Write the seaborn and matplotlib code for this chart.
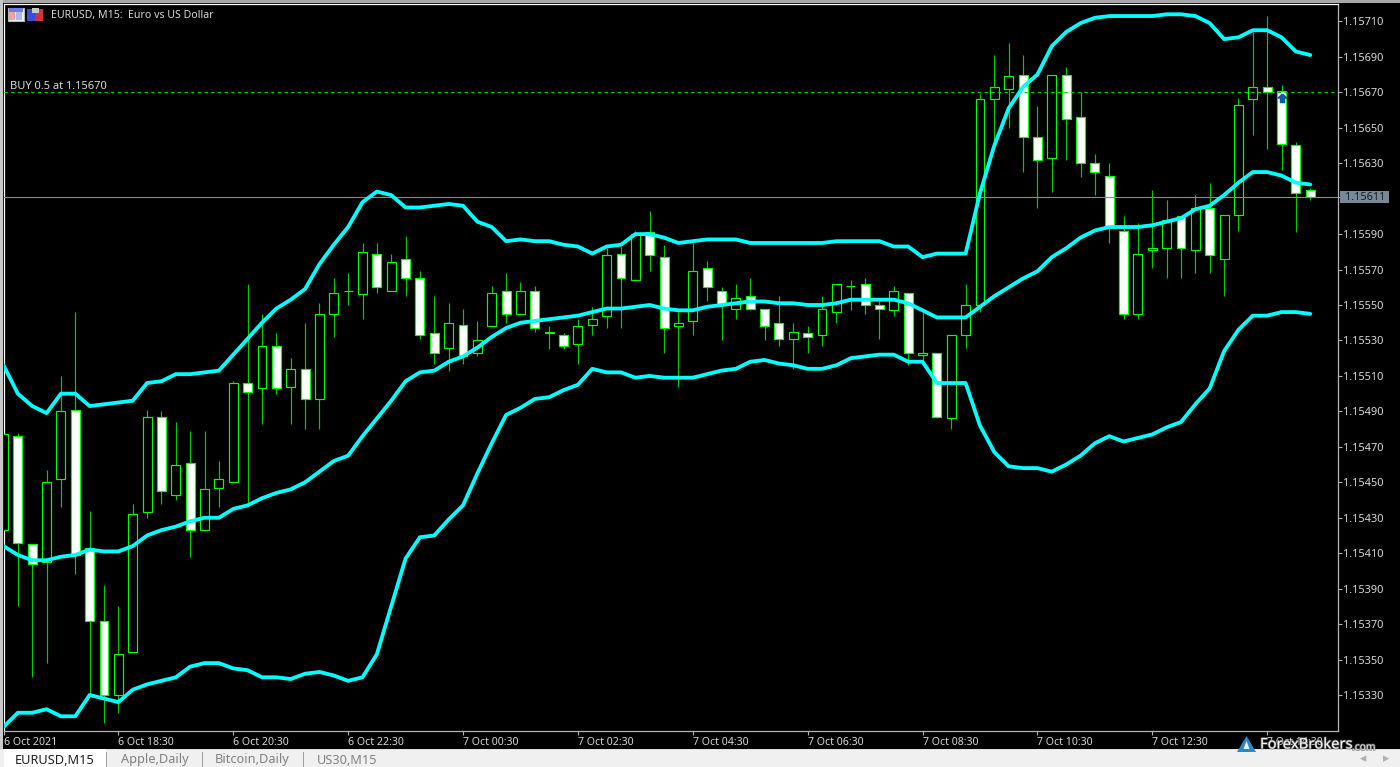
import numpy as np
import pandas as pd
import seaborn as sns
import matplotlib.pyplot as plt
import matplotlib.patheffects as pe
from matplotlib.patches import Rectangle, Polygon
from matplotlib.path import Path

# candles
open_price = [1.15423,1.15476,1.15415,1.15405,1.15452,1.15491,1.15413,1.15372,1.15330,1.15354,1.15433,1.15487,1.15443,1.15461,1.15423,1.15447,
              1.15450,1.15506,1.15503,1.15527,1.15504,1.15514,1.15497,1.15545,1.15558,1.15556,1.15579,1.15558,1.15576,1.15565,1.15534,1.15526,
              1.15539,1.15523,1.15538,1.15558,1.15545,1.15558,1.15535,1.15533,1.15528,1.15539,1.15544,1.15579,1.15564,1.15591,1.15577,1.15538,
              1.15541,1.15571,1.15558,1.15548,1.15555,1.15548,1.15540,1.15531,1.15534,1.15533,1.15546,1.15561,1.15562,1.15550,1.15547,1.15557,
              1.15522,1.15523,1.15486,1.15533,1.15550,1.15666,1.15672,1.15680,1.15645,1.15633,1.15680,1.15656,1.15630,1.15623,1.15592,1.15545,
              1.15581,1.15582,1.15600,1.15581,1.15605,1.15576,1.15601,1.15666,1.15673,1.15671,1.15640,1.15615]
high_price = [1.15477,1.15478,1.15415,1.15457,1.15510,1.15546,1.15434,1.15392,1.15380,1.15438,1.15491,1.15490,1.15484,1.15479,1.15479,1.15462,
              1.15507,1.15562,1.15545,1.15534,1.15520,1.15540,1.15551,1.15565,1.15568,1.15585,1.15585,1.15579,1.15589,1.15569,1.15555,1.15551,
              1.15548,1.15541,1.15561,1.15568,1.15563,1.15561,1.15538,1.15534,1.15542,1.15549,1.15582,1.15583,1.15592,1.15603,1.15584,1.15546,
              1.15585,1.15575,1.15560,1.15562,1.15565,1.15548,1.15555,1.15540,1.15538,1.15555,1.15562,1.15564,1.15565,1.15552,1.15561,1.15557,
              1.15546,1.15523,1.15533,1.15562,1.15669,1.15691,1.15698,1.15691,1.15662,1.15680,1.15684,1.15670,1.15635,1.15630,1.15600,1.15596,
              1.15615,1.15609,1.15600,1.15612,1.15619,1.15601,1.15667,1.15704,1.15713,1.15674,1.15642,1.15616]
low_price = [1.15423,1.15380,1.15340,1.15348,1.15436,1.15398,1.15330,1.15314,1.15320,1.15354,1.15430,1.15438,1.15440,1.15408,1.15423,1.15436,
             1.15450,1.15438,1.15483,1.15500,1.15483,1.15480,1.15480,1.15532,1.15550,1.15542,1.15557,1.15558,1.15555,1.15531,1.15517,1.15513,
             1.15517,1.15521,1.15538,1.15540,1.15545,1.15535,1.15525,1.15525,1.15517,1.15533,1.15537,1.15537,1.15564,1.15569,1.15523,1.15504,
             1.15533,1.15552,1.15530,1.15542,1.15547,1.15530,1.15527,1.15514,1.15523,1.15527,1.15540,1.15547,1.15545,1.15531,1.15544,1.15516,
             1.15518,1.15486,1.15480,1.15526,1.15546,1.15641,1.15650,1.15625,1.15605,1.15614,1.15632,1.15622,1.15612,1.15585,1.15542,1.15542,
             1.15571,1.15565,1.15565,1.15568,1.15568,1.15555,1.15592,1.15646,1.15638,1.15626,1.15591,1.15609]
close_price = [1.15477,1.15416,1.15404,1.15450,1.15490,1.15409,1.15372,1.15330,1.15353,1.15432,1.15487,1.15445,1.15460,1.15423,1.15446,1.15452,
               1.15506,1.15501,1.15527,1.15503,1.15514,1.15497,1.15545,1.15557,1.15558,1.15580,1.15560,1.15574,1.15565,1.15533,1.15523,1.15540,
               1.15521,1.15530,1.15557,1.15545,1.15558,1.15537,1.15534,1.15527,1.15538,1.15542,1.15578,1.15565,1.15590,1.15578,1.15537,1.15540,
               1.15569,1.15560,1.15550,1.15554,1.15548,1.15538,1.15531,1.15535,1.15532,1.15548,1.15562,1.15561,1.15550,1.15548,1.15558,1.15523,
               1.15523,1.15487,1.15533,1.15550,1.15666,1.15673,1.15679,1.15645,1.15632,1.15680,1.15655,1.15630,1.15625,1.15594,1.15545,1.15579,
               1.15582,1.15598,1.15582,1.15605,1.15578,1.15601,1.15663,1.15673,1.15670,1.15641,1.15613,1.15611]

# bollinger bands
band_upper = [1.15516,1.15500,1.15493,1.15489,1.15500,1.15500,1.15493,1.15494,1.15495,1.15496,1.15506,1.15507,1.15511,1.15511,1.15512,1.15513,
              1.15522,1.15531,1.15540,1.15548,1.15553,1.15559,1.15573,1.15584,1.15594,1.15608,1.15614,1.15612,1.15605,1.15605,1.15606,1.15607,
              1.15606,1.15597,1.15594,1.15586,1.15587,1.15586,1.15586,1.15584,1.15583,1.15579,1.15583,1.15584,1.15590,1.15590,1.15588,1.15585,
              1.15586,1.15587,1.15587,1.15587,1.15585,1.15585,1.15585,1.15585,1.15585,1.15585,1.15586,1.15586,1.15586,1.15586,1.15583,1.15583,
              1.15577,1.15579,1.15579,1.15579,1.15613,1.15640,1.15661,1.15673,1.15680,1.15696,1.15704,1.15709,1.15712,1.15713,1.15713,1.15713,
              1.15713,1.15714,1.15714,1.15713,1.15709,1.15700,1.15701,1.15705,1.15705,1.15701,1.15693,1.15691]
band_middle = [1.15414,1.15409,1.15406,1.15406,1.15408,1.15409,1.15412,1.15411,1.15411,1.15414,1.15420,1.15423,1.15425,1.15428,1.15430,1.15430,
               1.15435,1.15437,1.15441,1.15444,1.15446,1.15450,1.15456,1.15462,1.15465,1.15476,1.15486,1.15496,1.15507,1.15512,1.15513,1.15518,
               1.15521,1.15526,1.15532,1.15537,1.15540,1.15541,1.15542,1.15543,1.15544,1.15546,1.15548,1.15548,1.15549,1.15550,1.15548,1.15547,
               1.15547,1.15549,1.15550,1.15551,1.15552,1.15552,1.15551,1.15551,1.15550,1.15550,1.15551,1.15553,1.15553,1.15553,1.15553,1.15551,
               1.15547,1.15543,1.15543,1.15543,1.15549,1.15555,1.15560,1.15565,1.15569,1.15577,1.15582,1.15588,1.15592,1.15594,1.15594,1.15594,
               1.15595,1.15597,1.15599,1.15604,1.15606,1.15612,1.15619,1.15625,1.15625,1.15623,1.15619,1.15618]
band_lower = [1.15312,1.15320,1.15320,1.15322,1.15318,1.15318,1.15330,1.15328,1.15326,1.15333,1.15336,1.15338,1.15340,1.15346,1.15348,1.15348,
              1.15345,1.15344,1.15340,1.15340,1.15339,1.15342,1.15343,1.15341,1.15338,1.15340,1.15353,1.15380,1.15407,1.15419,1.15420,1.15429,
              1.15437,1.15455,1.15472,1.15488,1.15492,1.15497,1.15498,1.15502,1.15505,1.15514,1.15512,1.15512,1.15509,1.15510,1.15509,1.15509,
              1.15509,1.15511,1.15513,1.15514,1.15518,1.15519,1.15517,1.15516,1.15514,1.15514,1.15516,1.15520,1.15521,1.15522,1.15522,1.15518,
              1.15518,1.15506,1.15506,1.15506,1.15482,1.15467,1.15459,1.15458,1.15458,1.15456,1.15460,1.15465,1.15472,1.15476,1.15473,1.15475,
              1.15477,1.15481,1.15484,1.15494,1.15503,1.15524,1.15536,1.15544,1.15544,1.15546,1.15546,1.15545]

price_ticks = [1.15710,1.15690,1.15670,1.15650,1.15630,1.15590,1.15570,1.15550,1.15530,1.15510,1.15490,1.15470,1.15450,1.15430,1.15410,1.15390,1.15370,1.15350,1.15330]
time_labels = ['6 Oct 2021','6 Oct 18:30','6 Oct 20:30','6 Oct 22:30','7 Oct 00:30','7 Oct 02:30',
               '7 Oct 04:30','7 Oct 06:30','7 Oct 08:30','7 Oct 10:30','7 Oct 12:30','7 Oct 14:30']
time_bars = [0,8,16,24,32,40,48,56,64,72,80,88]
buy_price = 1.15670
last_price = 1.15611

W, H = 1400, 767
GREEN = '#00ff00'
WICK = '#00cc00'
CYAN = '#00ffff'
TXT = '#d8d8d8'
FONT = 'Noto Sans'

sns.set_style('dark', rc={'axes.facecolor': 'black', 'figure.facecolor': 'black'})
plt.rcParams['font.family'] = FONT

df = pd.DataFrame({'open': open_price, 'high': high_price, 'low': low_price, 'close': close_price,
                   'upper': band_upper, 'middle': band_middle, 'lower': band_lower})
df['bar'] = df.index
up = df[df['close'] >= df['open']]
down = df[df['close'] < df['open']]

fig = plt.figure(figsize=(W / 100, H / 100), dpi=100)
ax = fig.add_axes([3.5 / W, 1 - 731 / H, (1337.5 - 3.5) / W, (731 - 4) / H])


def fx(x):
    return x / W


def fy(y):
    return 1 - y / H


# wicks, then bodies on top
ax.vlines(df['bar'], df['low'], df['high'], color=WICK, lw=0.85, zorder=2)
ax.bar(up['bar'], up['close'] - up['open'], bottom=up['open'], width=0.62,
       facecolor='black', edgecolor=GREEN, lw=0.85, zorder=3)
ax.bar(down['bar'], down['open'] - down['close'], bottom=down['close'], width=0.62,
       facecolor='white', edgecolor=GREEN, lw=0.85, zorder=3)

ax.axhline(buy_price, color='#00d000', lw=0.8, ls=(0, (3, 3)), zorder=4)
ax.axhline(last_price, color='#8a8a8a', lw=0.8, zorder=4)

for col in ['upper', 'middle', 'lower']:
    sns.lineplot(data=df, x='bar', y=col, color=CYAN, lw=2.75, estimator=None, ax=ax, zorder=5)

# buy arrow
arrow = Path([(0, 1), (-1, 0.1), (-0.45, 0.1), (-0.45, -0.9), (0.45, -0.9), (0.45, 0.1), (1, 0.1), (0, 1)])
ax.plot([89], [buy_price - 0.00003], marker=arrow, ms=6.5, color='#1258a8', mec='#1258a8', ls='none', zorder=6)

ax.set_xlim(0, (1337.5 - 3.5) / 14.36)
ax.set_ylim(1.153097, 1.157198)
ax.set_xlabel('')
ax.set_ylabel('')
ax.grid(False)

ax.yaxis.tick_right()
ax.set_yticks(price_ticks)
ax.set_yticklabels(['%.5f' % p for p in price_ticks], color=TXT, fontsize=7.9)
ax.set_xticks(time_bars)
ax.set_xticklabels(time_labels, color=TXT, fontsize=7.6, ha='left')
ax.tick_params(axis='y', length=3, width=0.8, color='#b0b0b0', pad=0.6, right=True)
ax.tick_params(axis='x', length=3, width=0.8, color='#b0b0b0', pad=1.5, bottom=True)
for s in ax.spines.values():
    s.set_color('#b4b4b4')
    s.set_linewidth(0.9)
ax.spines['top'].set_color('white')
ax.spines['left'].set_color('white')


def box(x0, y0, x1, y1, color, z=10, ec='none', lw=0):
    fig.add_artist(Rectangle((fx(x0), fy(y1)), (x1 - x0) / W, (y1 - y0) / H, transform=fig.transFigure,
                             facecolor=color, edgecolor=ec, lw=lw, zorder=z))


# last price badge
box(1340, 190.7, 1389, 202.7, '#778899')
box(1337.5, 196.5, 1340, 197.5, '#b0b0b0')
fig.text(fx(1345), fy(197), '%.5f' % last_price, va='center', ha='left', fontsize=7.9, color='#1a1a1a', zorder=11)

# chart header
fig.text(fx(9.5), fy(86.5), 'BUY 0.5 at 1.15670', va='center', ha='left', fontsize=8, color=TXT)
fig.text(fx(51), fy(15.5), 'EURUSD, M15:  Euro vs US Dollar', va='center', ha='left', fontsize=7.6, color=TXT)

# window chrome
box(0, 0, W, 2.5, '#a8a8a8')
box(0, 0, 2.5, H, '#c8c8c8')

# little toolbar icons
box(7.5, 7.5, 23.5, 21, '#f0f0f0', ec='#b8b8b8', lw=0.8)
box(8.5, 8.5, 22.5, 11.5, '#6f7fe0')
box(9, 12, 15, 20, '#f0a0a0')
box(16, 12, 22, 20, '#a8b8f0')
box(27, 9, 35, 21, '#3a4fd8')
box(35, 9, 43, 21, '#c83838')
box(32, 8, 39, 13, '#c8c8c8')

# tab bar
box(0, 750, W, H, '#f0f0f0')
box(0, 748.5, W, 750, '#e0e0e0')
box(4, 748.5, 106, H, 'white', z=11)
for sep in [106, 202, 303]:
    box(sep, 752, sep + 1, H, '#a0a0a0', z=12)
tabs = [('EURUSD,M15', 55, '#202020'), ('Apple,Daily', 155, '#808080'), ('Bitcoin,Daily', 252, '#808080'), ('US30,M15', 347, '#808080')]
for name, xc, col in tabs:
    fig.text(fx(xc), fy(760), name, ha='center', va='center', fontsize=9.2, color=col, zorder=13)
fig.text(fx(1363), fy(759), '◂', ha='center', va='center', fontsize=9, color='#b0b0b0', zorder=13, family='DejaVu Sans')
fig.text(fx(1386), fy(759), '▸', ha='center', va='center', fontsize=9, color='#b0b0b0', zorder=13, family='DejaVu Sans')

# watermark
shadow = [pe.withSimplePatchShadow(offset=(0.8, -0.8), shadow_rgbFace='#505050', alpha=0.8)]
fig.add_artist(Polygon([(fx(1246.5), fy(736)), (fx(1237), fy(752)), (fx(1256), fy(752))], closed=True,
                       transform=fig.transFigure, facecolor='#2f86c0', edgecolor='none', zorder=14))
fig.add_artist(Polygon([(fx(1246.5), fy(741)), (fx(1243.5), fy(749)), (fx(1249.5), fy(749))], closed=True,
                       transform=fig.transFigure, facecolor='#e8f2f8', edgecolor='none', zorder=15))
t1 = fig.text(fx(1260), fy(745), 'ForexBrokers', ha='left', va='center', fontsize=10.6, color='#f4f4f4', zorder=14)
t2 = fig.text(fx(1352), fy(747.5), '.com', ha='left', va='center', fontsize=7.4, color='#e0e0e0', zorder=14)
for t in (t1, t2):
    t.set_path_effects([pe.withStroke(linewidth=1.2, foreground='#707070', alpha=0.7)])

fig.savefig('out.png', dpi=100, facecolor='black')
